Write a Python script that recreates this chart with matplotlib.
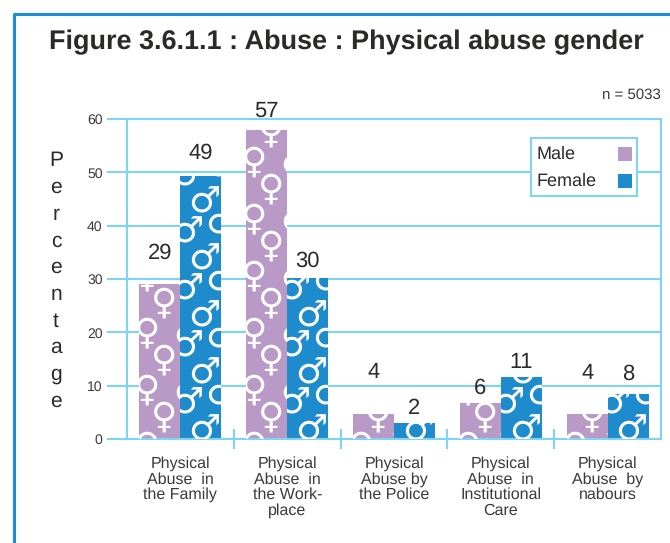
import matplotlib
matplotlib.use("Agg")
import matplotlib.pyplot as plt
from matplotlib.lines import Line2D
from matplotlib.patches import Rectangle
import numpy as np

plt.rcParams['font.family'] = ['Liberation Sans', 'DejaVu Sans']
plt.rcParams['text.hinting'] = 'no_hinting'
plt.rcParams['text.hinting_factor'] = 1

categories = ["Physical\nAbuse  in\nthe Family",
              "Physical\nAbuse  in\nthe Work-\nplace",
              "Physical\nAbuse by\nthe Police",
              "Physical\nAbuse  in\nInstitutional\nCare",
              "Physical\nAbuse  by\nnabours"]
male_labels = [29, 57, 4, 6, 4]
female_labels = [49, 30, 2, 11, 8]
# the drawn bars are a little taller than what the labels say
male_heights = [29, 58, 4.7, 6.7, 4.7]
female_heights = [49.3, 30.2, 3, 11.6, 8.4]

grid_col = '#7fd3f3'
male_col = '#b99ac7'
female_col = '#1e8bcd'
text_col = '#2b2a29'

W, H = 670, 543
fig = plt.figure(figsize=(W / 100, H / 100), dpi=100)
ax = fig.add_axes([127 / W, 1 - 439 / H, 534 / W, 320 / H])


# white symbols clipped to the bar: (dx from bar left px, dy phase px, rotation)
def fill_symbols(bar, glyph, columns, size):
	x0 = bar.get_x()
	h_px = bar.get_height() * 320 / 60
	for dx, phase, rot in columns:
		for dy in np.arange(phase - 57, h_px + 30, 57):
			t = ax.annotate(glyph, xy=(x0, 0), xycoords='data', xytext=(dx, dy),
				textcoords='offset pixels', color='white', fontsize=size,
				family='DejaVu Sans', ha='center', va='center', rotation=rot,
				zorder=3, annotation_clip=False)
			t.set_clip_path(bar)


x = np.arange(len(categories))
w = 41 / 107
male_bars = ax.bar(x - w / 2, male_heights, w, color=male_col, zorder=2)
female_bars = ax.bar(x + w / 2, female_heights, w, color=female_col, zorder=2)

for b in male_bars:
	fill_symbols(b, '\u2640', [(8, 48, 0), (25, 21, 0), (41, 55, 180)], 26)
for b in female_bars:
	fill_symbols(b, '\u2642', [(24, 8, 0), (7, 35, 0), (41, 44, 0)], 26)

# label gaps above the bars, in pixels
male_pad = [21, 8, 31, 5, 30]
female_pad = [13, 7, 4, 5, 10]
for i in x:
	ax.annotate(str(male_labels[i]), (i - w / 2, male_heights[i]), xytext=(0, male_pad[i]),
		textcoords='offset pixels', ha='center', va='bottom', fontsize=15.5, color=text_col, zorder=5)
	ax.annotate(str(female_labels[i]), (i + w / 2, female_heights[i]), xytext=(0, female_pad[i]),
		textcoords='offset pixels', ha='center', va='bottom', fontsize=15.5, color=text_col, zorder=5)

ax.set_xlim(-0.5, 4.5)
ax.set_ylim(0, 60)
ax.set_yticks(range(0, 61, 10))
ax.set_xticks(x)
ax.set_xticklabels(categories, fontsize=11.5, color='#3a3a3a', linespacing=1.05)
ax.set_xticks(x[:-1] + 0.5, minor=True)
ax.tick_params(axis='x', which='major', length=0, pad=12.5)
ax.tick_params(axis='x', which='minor', direction='inout', length=14.5, width=1.5, color=grid_col)
ax.tick_params(axis='y', length=14.5, width=1.5, color=grid_col, labelsize=10, labelcolor='#3a3a3a', pad=3)
ax.set_axisbelow(True)
ax.grid(axis='y', color=grid_col, lw=1.5)
for s in ax.spines.values():
	s.set_color(grid_col)
	s.set_linewidth(1.5)

# legend box, text left and swatch right as in the original
fig.add_artist(Rectangle((531 / W, 1 - 196 / H), 106 / W, 58 / H, transform=fig.transFigure,
	facecolor='white', edgecolor=grid_col, lw=1.5, zorder=6))
for name, col, ypx in [('Male', male_col, 154), ('Female', female_col, 181)]:
	fig.add_artist(Rectangle((618 / W, 1 - (ypx + 7) / H), 14 / W, 14 / H, transform=fig.transFigure,
		facecolor=col, edgecolor='none', zorder=7))
	fig.text(537 / W, 1 - ypx / H, name, fontsize=13, color=text_col, ha='left', va='center', zorder=7)

fig.text(346.5 / W, 1 - 42 / H, "Figure 3.6.1.1 : Abuse : Physical abuse gender", fontsize=19.2,
	fontweight='bold', color=text_col, ha='center', va='center')
fig.text(661 / W, 1 - 95 / H, "n = 5033", fontsize=11, color='#3a3a3a', ha='right', va='center')
fig.text(56 / W, 1 - 281 / H, "\n".join("Percentage"), fontsize=15, color=text_col,
	ha='center', va='center', linespacing=1.47)

# blue frame round the page, open at right and bottom
fig.add_artist(Line2D([13.5 / W, 13.5 / W, 1], [0, 1 - 13.5 / H, 1 - 13.5 / H], color='#1a8fd6', lw=2.2))

fig.savefig('out.png', dpi=100)
